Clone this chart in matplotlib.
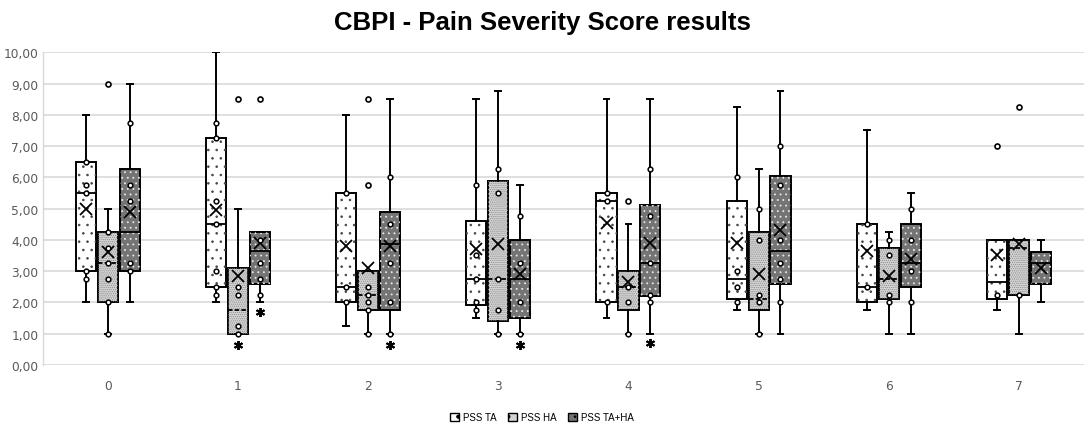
import matplotlib
matplotlib.use("Agg")
import matplotlib.pyplot as plt
from matplotlib.patches import Patch, PathPatch
from matplotlib.ticker import FuncFormatter

plt.rcParams['font.family'] = ['Liberation Sans', 'DejaVu Sans']
plt.rcParams['hatch.linewidth'] = 0.6

categories = ['0', '1', '2', '3', '4', '5', '6', '7']
series_names = ['PSS TA', 'PSS HA', 'PSS TA+HA']

# PSS TA
ta_whislo = [2.0, 2.0, 1.25, 1.5, 1.5, 1.75, 1.75, 1.75]
ta_q1 = [3.0, 2.5, 2.0, 1.9, 2.0, 2.1, 2.0, 2.1]
ta_med = [5.5, 4.5, 2.5, 2.75, 5.25, 2.75, 2.5, 2.65]
ta_q3 = [6.5, 7.25, 5.5, 4.6, 5.5, 5.25, 4.5, 4.0]
ta_whishi = [8.0, 10.0, 8.0, 8.5, 8.5, 8.25, 7.5, 4.0]
ta_mean = [5.0, 4.95, 3.8, 3.7, 4.55, 3.9, 3.65, 3.5]
ta_outliers = [[], [], [], [], [], [], [], [7.0]]
ta_points = [[6.5, 5.75, 5.5, 3.0, 2.75], [7.75, 7.25, 5.25, 4.5, 3.0, 2.5, 2.25],
             [5.5, 2.5, 2.0], [5.75, 3.5, 2.75, 2.0, 1.75], [5.5, 5.25, 2.0],
             [6.0, 3.0, 2.5, 2.0], [4.5, 2.5], [2.25]]

# PSS HA
ha_whislo = [1.0, 1.0, 1.0, 1.0, 1.0, 1.0, 1.0, 1.0]
ha_q1 = [2.0, 1.0, 1.75, 1.4, 1.75, 1.75, 2.1, 2.25]
ha_med = [3.25, 1.75, 2.25, 2.75, 2.5, 2.1, 2.75, 3.75]
ha_q3 = [4.25, 3.1, 3.0, 5.87, 3.0, 4.25, 3.75, 4.0]
ha_whishi = [5.0, 5.0, 3.0, 8.75, 4.5, 6.25, 4.25, 4.0]
ha_mean = [3.6, 2.85, 3.1, 3.85, 2.65, 2.9, 2.85, 3.85]
ha_outliers = [[9.0], [8.5], [8.5, 5.75], [], [5.25], [], [], [8.25]]
ha_points = [[3.75, 4.25, 3.25, 2.75, 2.0, 1.0], [2.5, 2.25, 1.25, 1.0],
             [2.5, 2.25, 2.0, 1.75, 1.0], [6.25, 5.5, 2.75, 1.75, 1.0],
             [2.5, 2.0, 1.0], [5.0, 4.0, 2.25, 2.0, 1.0], [4.0, 3.5, 2.25, 2.0], [2.25]]

# PSS TA+HA
tha_whislo = [2.0, 2.0, 1.0, 1.0, 1.0, 1.0, 1.0, 2.0]
tha_q1 = [3.0, 2.6, 1.75, 1.5, 2.2, 2.6, 2.5, 2.6]
tha_med = [4.25, 3.65, 3.85, 2.75, 3.25, 3.65, 3.25, 3.25]
tha_q3 = [6.25, 4.25, 4.9, 4.0, 5.1, 6.05, 4.5, 3.6]
tha_whishi = [9.0, 4.25, 8.5, 5.75, 8.5, 8.75, 5.5, 4.0]
tha_mean = [4.9, 3.9, 3.8, 2.9, 3.9, 4.3, 3.4, 3.1]
tha_outliers = [[], [8.5], [], [], [], [], [], []]
tha_points = [[7.75, 5.75, 5.25, 3.25, 3.0], [4.0, 3.25, 2.75, 2.25],
              [6.0, 4.5, 3.25, 2.0, 1.0], [4.75, 3.25, 2.0, 1.0],
              [6.25, 4.75, 3.25, 2.25, 2.0], [7.0, 5.75, 4.0, 3.25, 2.75, 2.0],
              [5.0, 4.0, 3.0, 2.0], []]

# significance asterisks: (category index, series index, y value)
stars = [(1, 1, 0.65), (1, 2, 1.7), (2, 2, 0.65), (3, 2, 0.65), (4, 2, 0.7)]

series = [
    (ta_whislo, ta_q1, ta_med, ta_q3, ta_whishi, ta_mean, ta_outliers, ta_points),
    (ha_whislo, ha_q1, ha_med, ha_q3, ha_whishi, ha_mean, ha_outliers, ha_points),
    (tha_whislo, tha_q1, tha_med, tha_q3, tha_whishi, tha_mean, tha_outliers, tha_points),
]
faces = ['white', '#d4d4d4', '#747474']
hatch_colors = ['#444444', '#8f8f8f', '#e8e8e8']
hatches = ['..', '........', '...']
median_styles = ['-', (0, (2.5, 1.2)), '-']
offsets = [-0.168, 0.0, 0.168]
width = 0.155

fig = plt.figure(figsize=(10.84, 4.39), dpi=100)
ax = fig.add_axes([0.0394, 0.1667, 0.9606, 0.7119])

for si, (wl, q1, med, q3, wh, mn, outl, pts) in enumerate(series):
    stats = []
    for i in range(len(categories)):
        stats.append(dict(whislo=wl[i], q1=q1[i], med=med[i], q3=q3[i],
                          whishi=wh[i], mean=mn[i], fliers=outl[i], label=categories[i]))
    positions = [i + offsets[si] for i in range(len(categories))]
    bp = ax.bxp(stats, positions=positions, widths=width, patch_artist=True,
                showmeans=True, showfliers=True, manage_ticks=False,
                boxprops=dict(facecolor=faces[si], edgecolor='black', linewidth=1.4),
                medianprops=dict(color='black', linewidth=1.3, linestyle=median_styles[si]),
                whiskerprops=dict(color='black', linewidth=1.4),
                capprops=dict(color='black', linewidth=1.4),
                capwidths=0.045,
                meanprops=dict(marker='x', markeredgecolor='black', markersize=8,
                               markeredgewidth=1.3),
                flierprops=dict(marker='o', markerfacecolor='white', markeredgecolor='black',
                                markersize=3.6, markeredgewidth=1.2))
    for b in bp['boxes']:
        b.set_zorder(2)
        hp = PathPatch(b.get_path(), facecolor='none', edgecolor=hatch_colors[si],
                       linewidth=0, hatch=hatches[si], zorder=2.1)
        ax.add_patch(hp)
    for key in ('medians', 'whiskers', 'caps', 'means', 'fliers'):
        for ln in bp[key]:
            ln.set_zorder(3)
    # inner points
    for i in range(len(categories)):
        if pts[i]:
            ax.plot([positions[i]] * len(pts[i]), pts[i], linestyle='none', marker='o',
                    markerfacecolor='white', markeredgecolor='black', markersize=3.4,
                    markeredgewidth=1.1, zorder=4)

for ci, si, yv in stars:
    ax.plot(ci + offsets[si], yv, marker=(6, 2, 0), color='black', markersize=6.5,
            markeredgewidth=1.4, linestyle='none', zorder=4)

ax.set_xlim(-0.5, 7.5)
ax.set_ylim(0, 10)
ax.set_yticks(range(0, 11))
ax.yaxis.set_major_formatter(FuncFormatter(lambda v, p: f"{v:.2f}".replace('.', ',')))
ax.set_xticks(range(len(categories)))
ax.set_xticklabels(categories)
for lbl in ax.get_xticklabels() + ax.get_yticklabels():
    lbl.set_family(['DejaVu Sans'])
ax.tick_params(axis='both', length=0, labelsize=8.8, colors='#595959')
ax.tick_params(axis='x', pad=10)
ax.tick_params(axis='y', pad=3)
ax.grid(axis='y', color='#d9d9d9', linewidth=1.2)
ax.set_axisbelow(True)
for s in ('top', 'right', 'bottom'):
    ax.spines[s].set_visible(False)
ax.spines['left'].set_color('#d9d9d9')
ax.spines['left'].set_linewidth(1.0)

fig.text(0.5, 0.948, 'CBPI - Pain Severity Score results', ha='center', va='center',
         fontsize=18.5, fontweight='bold', color='black')

handles = [Patch(facecolor=faces[i], edgecolor='black', hatch=('.' if i != 2 else '..'),
                 label=series_names[i]) for i in range(3)]
fig.legend(handles=handles, loc='center', bbox_to_anchor=(0.5, 0.048), ncol=3,
           frameon=False, fontsize=7, handlelength=0.9, handleheight=0.9,
           handletextpad=0.4, columnspacing=1.2)

fig.savefig('out.png', dpi=100)
